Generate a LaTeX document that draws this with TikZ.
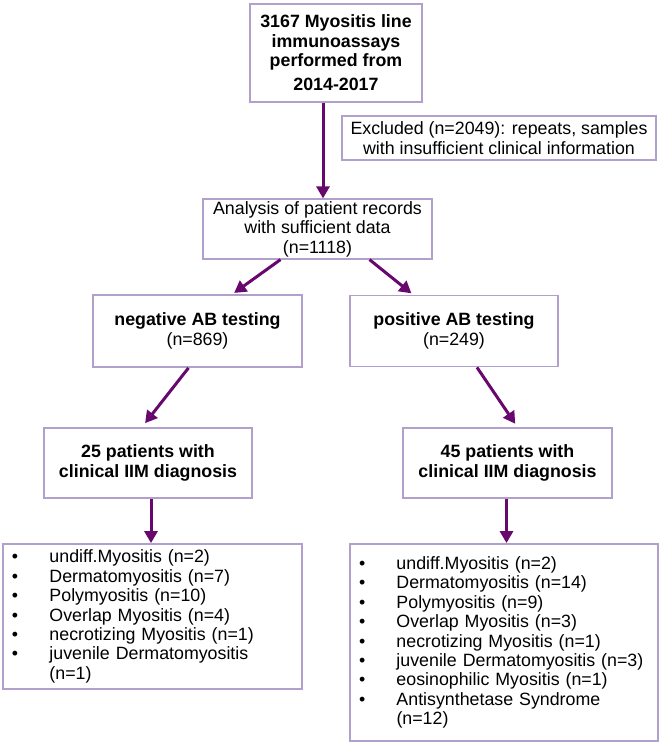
\documentclass[tikz,border=0pt]{standalone}
\usepackage{fontspec}
\setmainfont{Liberation Sans}
\usetikzlibrary{shapes, arrows.meta}

\definecolor{boxline}{RGB}{178,160,204}
\definecolor{flowcol}{RGB}{104,8,110}
\newcommand{\bul}{\makebox[37.5pt][l]{\textbullet}}

\begin{document}
\begin{tikzpicture}[x=1pt, y=-1pt,
    main/.style = {draw=boxline, line width=1.8pt, rectangle, align=center, inner sep=2pt,
                   font=\fontsize{17.8}{19.4}\selectfont},
    list/.style = {main, align=left, inner xsep=9pt},
    flow/.style = {draw=flowcol, line width=3pt, -{Triangle[length=12pt,width=13pt]}}]
        \useasboundingbox (0,0) rectangle (662,745);

        \node[main, minimum width=172, minimum height=98] at (336, 53) (top)
            {\bfseries 3167 Myositis line\\ \bfseries immunoassays\\ \bfseries performed from\\[5pt] \bfseries 2014-2017};
        \node[main, minimum width=314, minimum height=44] at (499, 138) (excl)
            {Excluded (n=2049): repeats, samples\\ with insufficient clinical information};
        \node[main, minimum width=229, minimum height=58] at (317.5, 229) (ana)
            {Analysis of patient records\\ with sufficient data\\ (n=1118)};
        \node[main, minimum width=209, minimum height=72] at (197.5, 331) (neg)
            {\textbf{negative AB testing}\\ (n=869)};
        \node[main, minimum width=208, minimum height=71] at (454, 331) (pos)
            {\textbf{positive AB testing}\\ (n=249)};
        \node[main, minimum width=208, minimum height=70] at (148, 463) (diagneg)
            {\bfseries 25 patients with\\ \bfseries clinical IIM diagnosis};
        \node[main, minimum width=209, minimum height=70] at (507.5, 463) (diagpos)
            {\bfseries 45 patients with\\ \bfseries clinical IIM diagnosis};
        \node[list, text width=281pt, minimum height=145] at (152.5, 616.5) (listneg)
            {\bul undiff.Myositis (n=2)\\ \bul Dermatomyositis (n=7)\\ \bul Polymyositis (n=10)\\
             \bul Overlap Myositis (n=4)\\ \bul necrotizing Myositis (n=1)\\
             \bul juvenile Dermatomyositis\\ \makebox[37.5pt]{}(n=1)};
        \node[list, text width=290pt, minimum height=197] at (504, 642.5) (listpos)
            {\bul undiff.Myositis (n=2)\\ \bul Dermatomyositis (n=14)\\ \bul Polymyositis (n=9)\\
             \bul Overlap Myositis (n=3)\\ \bul necrotizing Myositis (n=1)\\
             \bul juvenile Dermatomyositis (n=3)\\ \bul eosinophilic Myositis (n=1)\\
             \bul Antisynthetase Syndrome\\ \makebox[37.5pt]{}(n=12)};

        \draw [flow] ([xshift=-13pt]top.south) -- ([xshift=-13pt]top.south |- ana.north);
        \draw [flow, shorten >=2pt] ([xshift=-37pt]ana.south) -- ([xshift=35pt]neg.north);
        \draw [flow, shorten >=2pt] ([xshift=52pt]ana.south) -- ([xshift=-41pt]pos.north);
        \draw [flow, shorten >=5pt] ([xshift=-9pt]neg.south) -- ([xshift=-6pt]diagneg.north);
        \draw [flow, shorten >=4pt] ([xshift=23pt]pos.south) -- ([xshift=10pt]diagpos.north);
        \draw [flow] ([xshift=3pt]diagneg.south) -- ([xshift=3pt]diagneg.south |- listneg.north);
        \draw [flow] ([xshift=-1pt]diagpos.south) -- ([xshift=-1pt]diagpos.south |- listpos.north);
\end{tikzpicture}
\end{document}
